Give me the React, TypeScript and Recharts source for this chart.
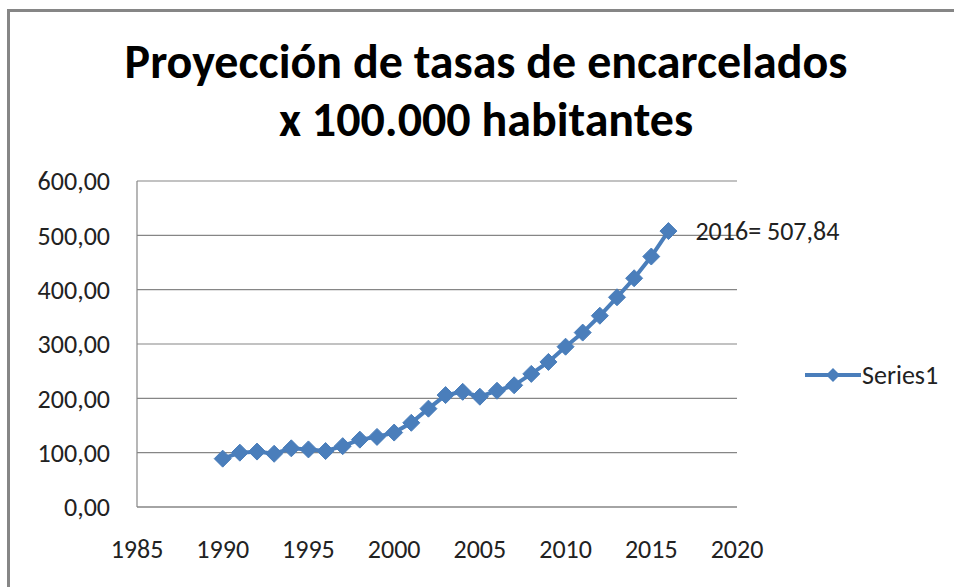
import { LineChart, Line, XAxis, YAxis, CartesianGrid } from 'recharts';

const years = [1990, 1991, 1992, 1993, 1994, 1995, 1996, 1997, 1998, 1999, 2000, 2001, 2002, 2003, 2004, 2005, 2006, 2007, 2008, 2009, 2010, 2011, 2012, 2013, 2014, 2015, 2016];
const rates = [89, 100, 102, 98, 108, 106, 103, 112, 124, 129, 137, 155, 181, 206, 212, 203, 214, 224, 245, 267, 295, 321, 352, 386, 421, 461, 507.84];
const xTicks = [1985, 1990, 1995, 2000, 2005, 2010, 2015, 2020];
const yTicks = [0, 100, 200, 300, 400, 500, 600];
const seriesName = 'Series1';
const titleLines = ['Proyección de tasas de encarcelados', 'x 100.000 habitantes'];

const BLUE = '#4a7ebb';
const GRID = '#868686';
const FONT = "Carlito, 'Open Sans', sans-serif";

const fmt = (v: number) => v.toFixed(2).replace('.', ',');

const data = years.map((y, i) => ({ year: y, value: rates[i] }));

function Diamond(props: any) {
  const { cx, cy } = props;
  if (cx == null || cy == null) return null;
  const r = 8.5;
  return <path d={`M${cx},${cy - r}L${cx + r},${cy}L${cx},${cy + r}L${cx - r},${cy}Z`} fill={BLUE} stroke={BLUE} strokeWidth={1} />;
}

function LastLabel(props: any) {
  const { x, y, index } = props;
  if (index !== data.length - 1) return null;
  const d = data[index];
  return (
    <text x={x + 27} y={y} dy="0.35em" fill="#222" fontSize={26} fontFamily={FONT}>
      {`${d.year}= ${fmt(d.value)}`}
    </text>
  );
}

export default function App() {
  return (
    <div style={{ position: 'absolute', left: 0, top: 0, width: 954, height: 587, background: '#fff', overflow: 'hidden' }}>
      <div style={{ position: 'absolute', left: 7, top: 9, right: -10, bottom: -10, borderLeft: `3px solid ${GRID}`, borderTop: `3px solid ${GRID}` }} />
      {titleLines.map((t, i) => (
        <div key={i} style={{ position: 'absolute', left: 0, width: 972, top: 33 + i * 58, textAlign: 'center', fontFamily: FONT, fontWeight: 700, fontSize: 48, color: '#000', lineHeight: '58px', whiteSpace: 'nowrap' }}>
          {t}
        </div>
      ))}
      <div style={{ position: 'absolute', left: 0, top: 0 }}>
        <LineChart width={954} height={587} data={data} margin={{ top: 181, right: 217, bottom: 0, left: 0 }}>
          <CartesianGrid vertical={false} stroke={GRID} strokeWidth={1.2} />
          <XAxis
            dataKey="year"
            type="number"
            domain={[1985, 2020]}
            ticks={xTicks}
            tickLine={false}
            tickSize={0}
            tickMargin={33}
            height={80}
            axisLine={{ stroke: GRID, strokeWidth: 1.2 }}
            tick={{ fill: '#222', fontSize: 26, fontFamily: FONT }}
          />
          <YAxis
            type="number"
            domain={[0, 600]}
            ticks={yTicks}
            tickFormatter={fmt}
            width={137}
            tickLine={false}
            tickSize={0}
            tickMargin={27}
            axisLine={{ stroke: GRID, strokeWidth: 1.2 }}
            tick={{ fill: '#222', fontSize: 26, fontFamily: FONT }}
          />
          <Line
            dataKey="value"
            name={seriesName}
            stroke={BLUE}
            strokeWidth={4}
            dot={<Diamond />}
            activeDot={false}
            label={<LastLabel />}
            isAnimationActive={false}
          />
        </LineChart>
      </div>
      <div style={{ position: 'absolute', left: 805, top: 359, display: 'flex', alignItems: 'center', fontFamily: FONT, fontSize: 26, color: '#222' }}>
        <svg width={56} height={28}>
          <line x1={0} y1={14} x2={56} y2={14} stroke={BLUE} strokeWidth={4} />
          <path d="M28,7L35,14L28,21L21,14Z" fill={BLUE} />
        </svg>
        <span style={{ marginLeft: 1 }}>{seriesName}</span>
      </div>
    </div>
  );
}
